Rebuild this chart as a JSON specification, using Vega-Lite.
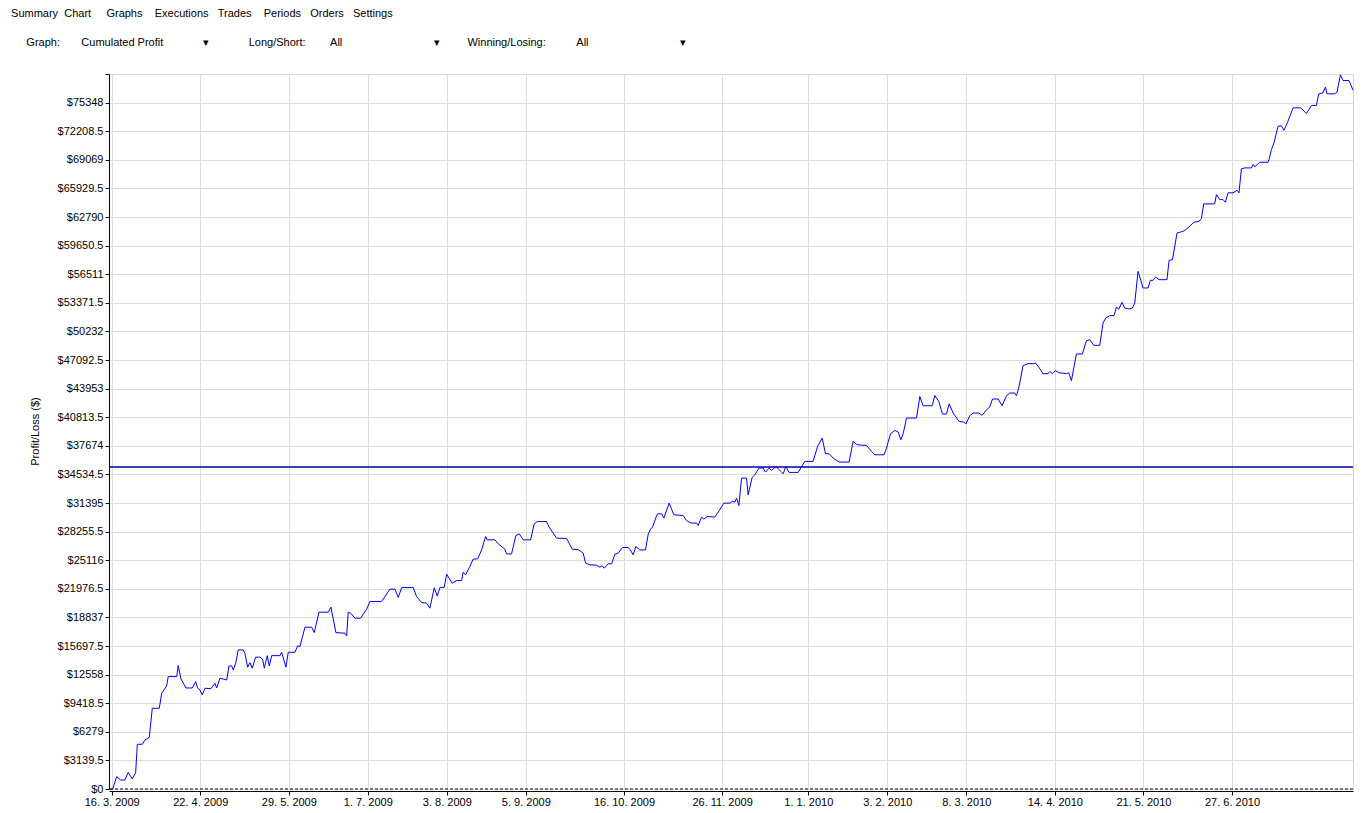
{
  "$schema": "https://vega.github.io/schema/vega-lite/v6.json",
  "autosize": {"type": "none"},
  "padding": {"left": 109, "top": 74, "right": 19, "bottom": 24},
  "width": 1244,
  "height": 715,
  "background": "white",
  "title": {
    "text": "\u200b\u00a0Summary\u00a0\u00a0Chart\u00a0\u00a0\u00a0\u00a0\u00a0Graphs\u00a0\u00a0\u00a0\u00a0Executions\u00a0\u00a0\u00a0Trades\u00a0\u00a0\u00a0\u00a0Periods\u00a0\u00a0\u00a0Orders\u00a0\u00a0\u00a0Settings",
    "subtitle": "\u200b\u00a0\u00a0\u00a0\u00a0\u00a0\u00a0Graph:\u00a0\u00a0\u00a0\u00a0\u00a0\u00a0\u00a0Cumulated Profit\u00a0\u00a0\u00a0\u00a0\u00a0\u00a0\u00a0\u00a0\u00a0\u00a0\u00a0\u00a0\u00a0\u25be\u00a0\u00a0\u00a0\u00a0\u00a0\u00a0\u00a0\u00a0\u00a0\u00a0\u00a0\u00a0\u00a0Long/Short:\u00a0\u00a0\u00a0\u00a0\u00a0\u00a0\u00a0\u00a0All\u00a0\u00a0\u00a0\u00a0\u00a0\u00a0\u00a0\u00a0\u00a0\u00a0\u00a0\u00a0\u00a0\u00a0\u00a0\u00a0\u00a0\u00a0\u00a0\u00a0\u00a0\u00a0\u00a0\u00a0\u00a0\u00a0\u00a0\u00a0\u00a0\u00a0\u25be\u00a0\u00a0\u00a0\u00a0\u00a0\u00a0\u00a0\u00a0\u00a0Winning/Losing:\u00a0\u00a0\u00a0\u00a0\u00a0\u00a0\u00a0\u00a0\u00a0\u00a0All\u00a0\u00a0\u00a0\u00a0\u00a0\u00a0\u00a0\u00a0\u00a0\u00a0\u00a0\u00a0\u00a0\u00a0\u00a0\u00a0\u00a0\u00a0\u00a0\u00a0\u00a0\u00a0\u00a0\u00a0\u00a0\u00a0\u00a0\u00a0\u00a0\u00a0\u25be",
    "anchor": "start",
    "frame": "group",
    "dx": -101,
    "offset": 20,
    "font": "Liberation Sans",
    "fontSize": 11,
    "fontWeight": "normal",
    "color": "black",
    "subtitleFont": "Liberation Sans",
    "subtitleFontSize": 11,
    "subtitleColor": "black",
    "subtitlePadding": 18
  },
  "config": {
    "view": {"stroke": "#d4d4d4"},
    "axis": {
      "labelFont": "Liberation Sans",
      "titleFont": "Liberation Sans",
      "labelFontSize": 11,
      "titleFontSize": 11,
      "labelColor": "black",
      "titleColor": "black",
      "titleFontWeight": "normal",
      "domainColor": "black",
      "tickColor": "black",
      "tickSize": 4,
      "gridColor": "#dcdcdc",
      "gridOpacity": 1
    }
  },
  "data": {
    "values": [
      {"date": "2009-03-15T07:00", "profit": 0},
      {"date": "2009-03-16T10:00", "profit": 0},
      {"date": "2009-03-18T02:00", "profit": 1350},
      {"date": "2009-03-19T18:00", "profit": 990},
      {"date": "2009-03-21T13:00", "profit": 990},
      {"date": "2009-03-22T22:00", "profit": 1830},
      {"date": "2009-03-24T14:00", "profit": 1100},
      {"date": "2009-03-26T00:00", "profit": 1790},
      {"date": "2009-03-26T17:00", "profit": 4910},
      {"date": "2009-03-28T19:00", "profit": 4910},
      {"date": "2009-03-29T22:00", "profit": 5380},
      {"date": "2009-03-31T17:00", "profit": 5680},
      {"date": "2009-04-01T23:00", "profit": 8860},
      {"date": "2009-04-04T21:00", "profit": 8860},
      {"date": "2009-04-05T21:00", "profit": 10510},
      {"date": "2009-04-07T23:00", "profit": 11310},
      {"date": "2009-04-08T15:00", "profit": 12340},
      {"date": "2009-04-12T04:00", "profit": 12340},
      {"date": "2009-04-12T19:00", "profit": 13550},
      {"date": "2009-04-13T23:00", "profit": 12080},
      {"date": "2009-04-16T01:00", "profit": 11090},
      {"date": "2009-04-18T16:00", "profit": 11090},
      {"date": "2009-04-20T02:00", "profit": 11790},
      {"date": "2009-04-20T22:00", "profit": 11060},
      {"date": "2009-04-21T21:00", "profit": 10880},
      {"date": "2009-04-22T20:00", "profit": 10330},
      {"date": "2009-04-23T23:00", "profit": 11060},
      {"date": "2009-04-26T11:00", "profit": 11020},
      {"date": "2009-04-28T03:00", "profit": 11610},
      {"date": "2009-04-28T20:00", "profit": 11090},
      {"date": "2009-04-30T06:00", "profit": 12160},
      {"date": "2009-05-03T01:00", "profit": 11970},
      {"date": "2009-05-04T00:00", "profit": 13510},
      {"date": "2009-05-05T03:00", "profit": 13510},
      {"date": "2009-05-05T19:00", "profit": 13070},
      {"date": "2009-05-06T19:00", "profit": 13810},
      {"date": "2009-05-07T21:00", "profit": 15270},
      {"date": "2009-05-09T23:00", "profit": 15270},
      {"date": "2009-05-10T16:00", "profit": 14900},
      {"date": "2009-05-11T19:00", "profit": 13370},
      {"date": "2009-05-12T18:00", "profit": 13870},
      {"date": "2009-05-13T17:00", "profit": 13260},
      {"date": "2009-05-15T03:00", "profit": 14470},
      {"date": "2009-05-16T23:00", "profit": 14470},
      {"date": "2009-05-18T01:00", "profit": 14250},
      {"date": "2009-05-18T18:00", "profit": 13260},
      {"date": "2009-05-20T00:00", "profit": 14640},
      {"date": "2009-05-20T20:00", "profit": 13510},
      {"date": "2009-05-21T20:00", "profit": 14640},
      {"date": "2009-05-25T07:00", "profit": 14640},
      {"date": "2009-05-26T00:00", "profit": 15010},
      {"date": "2009-05-27T19:00", "profit": 13370},
      {"date": "2009-05-28T18:00", "profit": 15010},
      {"date": "2009-05-31T13:00", "profit": 15010},
      {"date": "2009-06-01T16:00", "profit": 15710},
      {"date": "2009-06-02T15:00", "profit": 15640},
      {"date": "2009-06-04T18:00", "profit": 17760},
      {"date": "2009-06-07T13:00", "profit": 17760},
      {"date": "2009-06-08T15:00", "profit": 17170},
      {"date": "2009-06-10T14:00", "profit": 19410},
      {"date": "2009-06-14T11:00", "profit": 19410},
      {"date": "2009-06-15T14:00", "profit": 19960},
      {"date": "2009-06-17T16:00", "profit": 17170},
      {"date": "2009-06-21T11:00", "profit": 17100},
      {"date": "2009-06-22T04:00", "profit": 16810},
      {"date": "2009-06-22T19:00", "profit": 19410},
      {"date": "2009-06-23T20:00", "profit": 19300},
      {"date": "2009-06-25T15:00", "profit": 18750},
      {"date": "2009-06-28T00:00", "profit": 18750},
      {"date": "2009-06-30T12:00", "profit": 19740},
      {"date": "2009-07-01T21:00", "profit": 20580},
      {"date": "2009-07-06T18:00", "profit": 20580},
      {"date": "2009-07-10T06:00", "profit": 21940},
      {"date": "2009-07-12T08:00", "profit": 21940},
      {"date": "2009-07-13T17:00", "profit": 21020},
      {"date": "2009-07-15T03:00", "profit": 22110},
      {"date": "2009-07-19T23:00", "profit": 22110},
      {"date": "2009-07-21T09:00", "profit": 21120},
      {"date": "2009-07-23T11:00", "profit": 20470},
      {"date": "2009-07-25T13:00", "profit": 20400},
      {"date": "2009-07-26T22:00", "profit": 19850},
      {"date": "2009-07-28T18:00", "profit": 22090},
      {"date": "2009-07-30T00:00", "profit": 21180},
      {"date": "2009-07-31T03:00", "profit": 22130},
      {"date": "2009-08-01T22:00", "profit": 22130},
      {"date": "2009-08-02T22:00", "profit": 23580},
      {"date": "2009-08-05T06:00", "profit": 22590},
      {"date": "2009-08-07T02:00", "profit": 22880},
      {"date": "2009-08-09T04:00", "profit": 22880},
      {"date": "2009-08-09T20:00", "profit": 23800},
      {"date": "2009-08-10T20:00", "profit": 23510},
      {"date": "2009-08-12T15:00", "profit": 24420},
      {"date": "2009-08-14T00:00", "profit": 25230},
      {"date": "2009-08-15T21:00", "profit": 25270},
      {"date": "2009-08-17T13:00", "profit": 26250},
      {"date": "2009-08-19T05:00", "profit": 27720},
      {"date": "2009-08-19T21:00", "profit": 27350},
      {"date": "2009-08-23T02:00", "profit": 27350},
      {"date": "2009-08-24T11:00", "profit": 26910},
      {"date": "2009-08-27T06:00", "profit": 26330},
      {"date": "2009-08-27T23:00", "profit": 25810},
      {"date": "2009-08-30T01:00", "profit": 25810},
      {"date": "2009-08-31T20:00", "profit": 27820},
      {"date": "2009-09-02T06:00", "profit": 28010},
      {"date": "2009-09-03T22:00", "profit": 27350},
      {"date": "2009-09-07T00:00", "profit": 27350},
      {"date": "2009-09-08T12:00", "profit": 29110},
      {"date": "2009-09-09T18:00", "profit": 29360},
      {"date": "2009-09-13T16:00", "profit": 29360},
      {"date": "2009-09-14T18:00", "profit": 28750},
      {"date": "2009-09-17T20:00", "profit": 27540},
      {"date": "2009-09-22T01:00", "profit": 27500},
      {"date": "2009-09-24T09:00", "profit": 26330},
      {"date": "2009-09-26T21:00", "profit": 26290},
      {"date": "2009-09-28T23:00", "profit": 25890},
      {"date": "2009-09-29T23:00", "profit": 24790},
      {"date": "2009-10-01T18:00", "profit": 24610},
      {"date": "2009-10-04T13:00", "profit": 24570},
      {"date": "2009-10-05T22:00", "profit": 24350},
      {"date": "2009-10-06T21:00", "profit": 24500},
      {"date": "2009-10-07T18:00", "profit": 24240},
      {"date": "2009-10-09T10:00", "profit": 24720},
      {"date": "2009-10-10T20:00", "profit": 24720},
      {"date": "2009-10-12T05:00", "profit": 25780},
      {"date": "2009-10-13T14:00", "profit": 25890},
      {"date": "2009-10-15T10:00", "profit": 26510},
      {"date": "2009-10-17T18:00", "profit": 26510},
      {"date": "2009-10-18T11:00", "profit": 26330},
      {"date": "2009-10-19T20:00", "profit": 25710},
      {"date": "2009-10-20T23:00", "profit": 26620},
      {"date": "2009-10-22T15:00", "profit": 26250},
      {"date": "2009-10-25T00:00", "profit": 26250},
      {"date": "2009-10-26T03:00", "profit": 27980},
      {"date": "2009-10-27T03:00", "profit": 28530},
      {"date": "2009-10-27T23:00", "profit": 28750},
      {"date": "2009-10-29T08:00", "profit": 29800},
      {"date": "2009-10-30T01:00", "profit": 30210},
      {"date": "2009-10-31T17:00", "profit": 30210},
      {"date": "2009-11-01T16:00", "profit": 29740},
      {"date": "2009-11-03T21:00", "profit": 31380},
      {"date": "2009-11-05T20:00", "profit": 30100},
      {"date": "2009-11-09T17:00", "profit": 30020},
      {"date": "2009-11-11T03:00", "profit": 29470},
      {"date": "2009-11-12T23:00", "profit": 29190},
      {"date": "2009-11-15T08:00", "profit": 29190},
      {"date": "2009-11-16T00:00", "profit": 28920},
      {"date": "2009-11-17T10:00", "profit": 29850},
      {"date": "2009-11-18T09:00", "profit": 29630},
      {"date": "2009-11-19T18:00", "profit": 29910},
      {"date": "2009-11-22T23:00", "profit": 29850},
      {"date": "2009-11-24T18:00", "profit": 30540},
      {"date": "2009-11-26T17:00", "profit": 31380},
      {"date": "2009-11-29T06:00", "profit": 31380},
      {"date": "2009-11-30T05:00", "profit": 31560},
      {"date": "2009-12-01T08:00", "profit": 31500},
      {"date": "2009-12-02T01:00", "profit": 31930},
      {"date": "2009-12-03T00:00", "profit": 31120},
      {"date": "2009-12-04T03:00", "profit": 34130},
      {"date": "2009-12-06T05:00", "profit": 34130},
      {"date": "2009-12-06T21:00", "profit": 32300},
      {"date": "2009-12-08T13:00", "profit": 34200},
      {"date": "2009-12-09T16:00", "profit": 34490},
      {"date": "2009-12-11T11:00", "profit": 35230},
      {"date": "2009-12-13T03:00", "profit": 35230},
      {"date": "2009-12-14T03:00", "profit": 34790},
      {"date": "2009-12-15T15:00", "profit": 35230},
      {"date": "2009-12-16T15:00", "profit": 34970},
      {"date": "2009-12-18T11:00", "profit": 35400},
      {"date": "2009-12-20T20:00", "profit": 34790},
      {"date": "2009-12-21T12:00", "profit": 34600},
      {"date": "2009-12-22T15:00", "profit": 35400},
      {"date": "2009-12-24T00:00", "profit": 34750},
      {"date": "2009-12-27T18:00", "profit": 34750},
      {"date": "2009-12-30T13:00", "profit": 35960},
      {"date": "2010-01-03T00:00", "profit": 35960},
      {"date": "2010-01-04T21:00", "profit": 37600},
      {"date": "2010-01-06T19:00", "profit": 38520},
      {"date": "2010-01-08T05:00", "profit": 36800},
      {"date": "2010-01-09T17:00", "profit": 36800},
      {"date": "2010-01-11T09:00", "profit": 36330},
      {"date": "2010-01-13T21:00", "profit": 35890},
      {"date": "2010-01-18T01:00", "profit": 35890},
      {"date": "2010-01-19T17:00", "profit": 38150},
      {"date": "2010-01-21T09:00", "profit": 37790},
      {"date": "2010-01-25T08:00", "profit": 37710},
      {"date": "2010-01-27T10:00", "profit": 37050},
      {"date": "2010-01-28T19:00", "profit": 36690},
      {"date": "2010-02-01T16:00", "profit": 36690},
      {"date": "2010-02-02T16:00", "profit": 37420},
      {"date": "2010-02-04T08:00", "profit": 39000},
      {"date": "2010-02-06T03:00", "profit": 39360},
      {"date": "2010-02-07T12:00", "profit": 39200},
      {"date": "2010-02-08T16:00", "profit": 38340},
      {"date": "2010-02-09T15:00", "profit": 39000},
      {"date": "2010-02-11T01:00", "profit": 40720},
      {"date": "2010-02-15T05:00", "profit": 40720},
      {"date": "2010-02-16T14:00", "profit": 43090},
      {"date": "2010-02-17T23:00", "profit": 42070},
      {"date": "2010-02-21T17:00", "profit": 42070},
      {"date": "2010-02-22T20:00", "profit": 43200},
      {"date": "2010-02-24T12:00", "profit": 42540},
      {"date": "2010-02-26T01:00", "profit": 41160},
      {"date": "2010-02-27T18:00", "profit": 41160},
      {"date": "2010-02-28T20:00", "profit": 42290},
      {"date": "2010-03-02T12:00", "profit": 41270},
      {"date": "2010-03-05T00:00", "profit": 40350},
      {"date": "2010-03-06T23:00", "profit": 40280},
      {"date": "2010-03-07T19:00", "profit": 40060},
      {"date": "2010-03-09T11:00", "profit": 40970},
      {"date": "2010-03-10T20:00", "profit": 41270},
      {"date": "2010-03-13T08:00", "profit": 41270},
      {"date": "2010-03-14T14:00", "profit": 41010},
      {"date": "2010-03-16T11:00", "profit": 41630},
      {"date": "2010-03-17T19:00", "profit": 41930},
      {"date": "2010-03-18T23:00", "profit": 42810},
      {"date": "2010-03-21T07:00", "profit": 42810},
      {"date": "2010-03-22T23:00", "profit": 42070},
      {"date": "2010-03-24T19:00", "profit": 43170},
      {"date": "2010-03-26T04:00", "profit": 43470},
      {"date": "2010-03-28T06:00", "profit": 43470},
      {"date": "2010-03-28T23:00", "profit": 43170},
      {"date": "2010-03-30T01:00", "profit": 44190},
      {"date": "2010-03-31T17:00", "profit": 46470},
      {"date": "2010-04-02T19:00", "profit": 46690},
      {"date": "2010-04-04T22:00", "profit": 46690},
      {"date": "2010-04-05T22:00", "profit": 46760},
      {"date": "2010-04-07T07:00", "profit": 46300},
      {"date": "2010-04-09T02:00", "profit": 45590},
      {"date": "2010-04-11T04:00", "profit": 45590},
      {"date": "2010-04-11T21:00", "profit": 45840},
      {"date": "2010-04-13T00:00", "profit": 45590},
      {"date": "2010-04-14T06:00", "profit": 45920},
      {"date": "2010-04-15T18:00", "profit": 45700},
      {"date": "2010-04-18T20:00", "profit": 45590},
      {"date": "2010-04-19T19:00", "profit": 45700},
      {"date": "2010-04-20T22:00", "profit": 44820},
      {"date": "2010-04-23T00:00", "profit": 47750},
      {"date": "2010-04-25T12:00", "profit": 47750},
      {"date": "2010-04-27T05:00", "profit": 49210},
      {"date": "2010-04-28T14:00", "profit": 49320},
      {"date": "2010-04-30T06:00", "profit": 48700},
      {"date": "2010-05-02T18:00", "profit": 48700},
      {"date": "2010-05-04T03:00", "profit": 51150},
      {"date": "2010-05-05T06:00", "profit": 51700},
      {"date": "2010-05-06T22:00", "profit": 51960},
      {"date": "2010-05-08T17:00", "profit": 51960},
      {"date": "2010-05-09T17:00", "profit": 52910},
      {"date": "2010-05-10T16:00", "profit": 52650},
      {"date": "2010-05-12T01:00", "profit": 53420},
      {"date": "2010-05-13T04:00", "profit": 52800},
      {"date": "2010-05-15T00:00", "profit": 52700},
      {"date": "2010-05-16T10:00", "profit": 52800},
      {"date": "2010-05-17T09:00", "profit": 53350},
      {"date": "2010-05-18T18:00", "profit": 56830},
      {"date": "2010-05-20T20:00", "profit": 55000},
      {"date": "2010-05-22T22:00", "profit": 55000},
      {"date": "2010-05-23T22:00", "profit": 55840},
      {"date": "2010-05-25T00:00", "profit": 55840},
      {"date": "2010-05-26T03:00", "profit": 56210},
      {"date": "2010-05-27T12:00", "profit": 55910},
      {"date": "2010-05-30T20:00", "profit": 55910},
      {"date": "2010-05-31T17:00", "profit": 58030},
      {"date": "2010-06-02T03:00", "profit": 58100},
      {"date": "2010-06-04T01:00", "profit": 61040},
      {"date": "2010-06-05T04:00", "profit": 61110},
      {"date": "2010-06-06T13:00", "profit": 61220},
      {"date": "2010-06-07T16:00", "profit": 61400},
      {"date": "2010-06-09T08:00", "profit": 61770},
      {"date": "2010-06-11T00:00", "profit": 62210},
      {"date": "2010-06-13T05:00", "profit": 62320},
      {"date": "2010-06-14T05:00", "profit": 62580},
      {"date": "2010-06-15T04:00", "profit": 64230},
      {"date": "2010-06-19T18:00", "profit": 64230},
      {"date": "2010-06-20T12:00", "profit": 65250},
      {"date": "2010-06-21T21:00", "profit": 64700},
      {"date": "2010-06-23T06:00", "profit": 64700},
      {"date": "2010-06-24T06:00", "profit": 64410},
      {"date": "2010-06-25T08:00", "profit": 65440},
      {"date": "2010-06-27T10:00", "profit": 65440},
      {"date": "2010-06-29T02:00", "profit": 65720},
      {"date": "2010-06-29T22:00", "profit": 65440},
      {"date": "2010-06-30T22:00", "profit": 68070},
      {"date": "2010-07-02T07:00", "profit": 68180},
      {"date": "2010-07-05T03:00", "profit": 68180},
      {"date": "2010-07-05T19:00", "profit": 68550},
      {"date": "2010-07-06T12:00", "profit": 68300},
      {"date": "2010-07-08T14:00", "profit": 68800},
      {"date": "2010-07-12T01:00", "profit": 68800},
      {"date": "2010-07-12T11:00", "profit": 69090},
      {"date": "2010-07-13T11:00", "profit": 70190},
      {"date": "2010-07-14T13:00", "profit": 70930},
      {"date": "2010-07-16T05:00", "profit": 72750},
      {"date": "2010-07-17T15:00", "profit": 72800},
      {"date": "2010-07-18T17:00", "profit": 72310},
      {"date": "2010-07-20T09:00", "profit": 73300},
      {"date": "2010-07-22T12:00", "profit": 74770},
      {"date": "2010-07-25T17:00", "profit": 74770},
      {"date": "2010-07-28T02:00", "profit": 74150},
      {"date": "2010-07-30T04:00", "profit": 75030},
      {"date": "2010-08-01T06:00", "profit": 75030},
      {"date": "2010-08-02T05:00", "profit": 76310},
      {"date": "2010-08-04T00:00", "profit": 76420},
      {"date": "2010-08-05T00:00", "profit": 77040},
      {"date": "2010-08-05T17:00", "profit": 76310},
      {"date": "2010-08-08T22:00", "profit": 76310},
      {"date": "2010-08-09T21:00", "profit": 76500},
      {"date": "2010-08-11T07:00", "profit": 78400},
      {"date": "2010-08-12T09:00", "profit": 77770},
      {"date": "2010-08-14T21:00", "profit": 77770},
      {"date": "2010-08-16T13:00", "profit": 76710}
    ]
  },
  "encoding": {
    "x": {
      "field": "date",
      "type": "temporal",
      "title": null,
      "scale": {
        "domain": [
          {"year": 2009, "month": 3, "date": 14, "hours": 21},
          {"year": 2010, "month": 8, "date": 16, "hours": 13}
        ]
      },
      "axis": {
        "values": [
          {"year": 2009, "month": 3, "date": 16},
          {"year": 2009, "month": 4, "date": 22},
          {"year": 2009, "month": 5, "date": 29},
          {"year": 2009, "month": 7, "date": 1},
          {"year": 2009, "month": 8, "date": 3},
          {"year": 2009, "month": 9, "date": 5},
          {"year": 2009, "month": 10, "date": 16},
          {"year": 2009, "month": 11, "date": 26},
          {"year": 2010, "month": 1, "date": 1},
          {"year": 2010, "month": 2, "date": 3},
          {"year": 2010, "month": 3, "date": 8},
          {"year": 2010, "month": 4, "date": 14},
          {"year": 2010, "month": 5, "date": 21},
          {"year": 2010, "month": 6, "date": 27}
        ],
        "format": "%-d. %-m. %Y",
        "labelPadding": 1,
        "offset": 2,
        "labelFlush": false,
        "labelOverlap": false
      }
    },
    "y": {
      "field": "profit",
      "type": "quantitative",
      "scale": {"domain": [0, 78487.5], "nice": false, "zero": true},
      "axis": {
        "title": "Profit/Loss ($)",
        "titleX": -74,
        "titleY": 357,
        "titleAngle": -90,
        "titleAlign": "center",
        "titleBaseline": "middle",
        "values": [0, 3139.5, 6279, 9418.5, 12558, 15697.5, 18837, 21976.5, 25116, 28255.5, 31395, 34534.5, 37674, 40813.5, 43953, 47092.5, 50232, 53371.5, 56511, 59650.5, 62790, 65929.5, 69069, 72208.5, 75348, 78487.5],
        "labelExpr": "datum.value > 78000 ? '' : '$' + datum.value",
        "labelPadding": 2,
        "labelFlush": false,
        "labelOverlap": false
      }
    }
  },
  "layer": [
    {
      "mark": {"type": "line", "color": "#0000ff", "strokeWidth": 1, "interpolate": "linear"}
    },
    {
      "data": {"values": [{"level": 35340}]},
      "mark": {"type": "rule", "color": "#0000aa", "strokeWidth": 1.5},
      "encoding": {"y": {"field": "level", "type": "quantitative"}, "x": null}
    },
    {
      "data": {"values": [{"level": 0}]},
      "mark": {"type": "rule", "color": "black", "strokeWidth": 1, "strokeDash": [3, 2]},
      "encoding": {"y": {"field": "level", "type": "quantitative"}, "x": null}
    }
  ]
}
